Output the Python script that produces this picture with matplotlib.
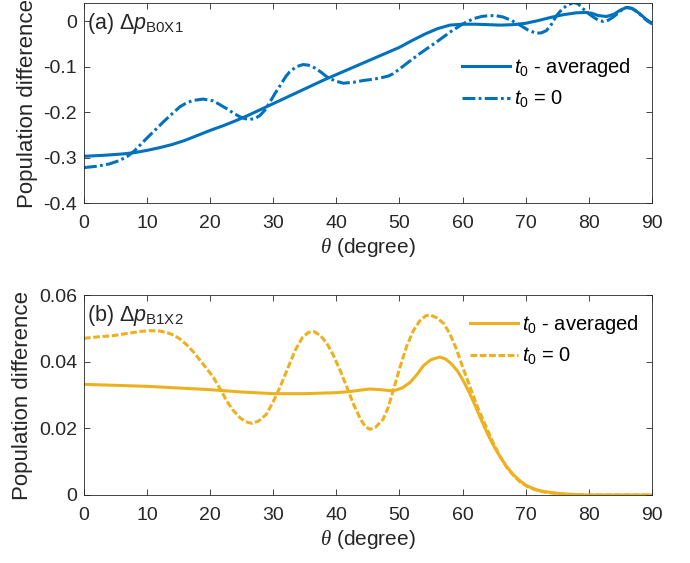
import matplotlib
matplotlib.use('Agg')
import matplotlib.pyplot as plt

plt.rcParams['font.family'] = ['Liberation Sans', 'DejaVu Sans']
plt.rcParams['mathtext.fontset'] = 'custom'
plt.rcParams['mathtext.rm'] = 'Liberation Sans'
plt.rcParams['mathtext.it'] = 'Liberation Sans:italic'
plt.rcParams['mathtext.bf'] = 'Liberation Serif:italic'

# panel (a): Delta p_B0X1, t0-averaged
theta_a_avg = [0, 3, 6, 8, 10, 12, 14, 16, 18, 20, 22, 24, 26, 28, 30, 32, 34, 36, 38, 40, 42, 44, 46,
               48, 50, 52, 54, 56, 58, 60, 62, 64, 66, 68, 70, 72, 74, 76, 78, 79.5, 80.5, 81.5, 82.8,
               84, 85, 86, 87, 88, 89, 90]
p_a_avg = [-0.297, -0.295, -0.292, -0.289, -0.284, -0.278, -0.271, -0.262, -0.251, -0.240, -0.230,
           -0.219, -0.207, -0.194, -0.181, -0.168, -0.155, -0.142, -0.129, -0.117, -0.105, -0.093,
           -0.081, -0.069, -0.057, -0.042, -0.028, -0.016, -0.008, -0.006, -0.006, -0.007, -0.008,
           -0.007, -0.004, 0.002, 0.009, 0.015, 0.019, 0.020, 0.018, 0.013, 0.011, 0.016, 0.025, 0.031,
           0.028, 0.018, 0.006, -0.004]

# panel (a): t0 = 0
theta_a_0 = [0, 2, 4, 5.5, 6.8, 8, 9.9, 11, 12.6, 14, 15.2, 16.3, 17.3, 18.9, 20.5, 21.5, 22.6, 23.7,
             24.7, 25.5, 26.3, 27.2, 27.9, 28.7, 29.5, 30.3, 31.1, 32, 32.6, 33.6, 34.7, 35.5, 36.3,
             37.5, 38.5, 39.8, 41.1, 42.7, 44.3, 46, 47.4, 48.3, 49, 50, 51.1, 53.2, 55.9, 58, 60.1,
             61.7, 63, 64.3, 65.4, 66.4, 67.8, 69.1, 70.4, 71.7, 72.5, 73.3, 74.1, 74.9, 75.7, 76.5,
             77.6, 78.3, 79.1, 80, 80.7, 81.5, 82.3, 83.1, 83.9, 84.6, 85.3, 86, 86.8, 87.6, 88.4,
             89.2, 90]
p_a_0 = [-0.322, -0.319, -0.314, -0.307, -0.298, -0.285, -0.258, -0.243, -0.221, -0.203, -0.188,
         -0.179, -0.174, -0.171, -0.175, -0.183, -0.192, -0.202, -0.210, -0.214, -0.216, -0.213,
         -0.207, -0.195, -0.177, -0.158, -0.141, -0.121, -0.111, -0.100, -0.095, -0.096, -0.100,
         -0.111, -0.122, -0.131, -0.136, -0.134, -0.130, -0.127, -0.123, -0.120, -0.115, -0.105,
         -0.093, -0.071, -0.045, -0.0235, -0.005, 0.006, 0.011, 0.013, 0.0125, 0.010, 0.002, -0.008,
         -0.019, -0.026, -0.025, -0.020, -0.006, 0.013, 0.026, 0.035, 0.042, 0.039, 0.028, 0.017,
         0.010, 0.003, 0.000, 0.003, 0.010, 0.018, 0.026, 0.031, 0.029, 0.022, 0.012, 0.002, -0.005]

# panel (b): Delta p_B1X2, t0-averaged
theta_b_avg = [0, 10, 20, 25, 30, 35, 40, 42, 44, 45.3, 47, 48.5, 49.5, 50.5, 51.7, 52.8, 53.8, 55,
               56.4, 57.3, 58.2, 59.2, 60.1, 61, 62, 63, 64, 65, 66, 67, 68, 69, 70, 71, 72, 73, 75,
               77, 80, 90]
p_b_avg = [0.0332, 0.0326, 0.0316, 0.0309, 0.0304, 0.0304, 0.0307, 0.0310, 0.0315, 0.0318, 0.0316,
           0.0313, 0.0315, 0.0322, 0.0338, 0.0362, 0.0388, 0.0406, 0.0414, 0.0408, 0.0394, 0.0372,
           0.0343, 0.0310, 0.0268, 0.0224, 0.0182, 0.0145, 0.0113, 0.0085, 0.0062, 0.0044, 0.0030,
           0.0021, 0.0014, 0.0010, 0.0005, 0.0002, 0.0, 0.0]

# panel (b): t0 = 0
theta_b_0 = [0, 2, 4.6, 7, 9, 10.5, 12, 13.2, 14.2, 15.3, 16.3, 17.4, 18.4, 19.5, 20.5, 21.6, 22.6,
             23.6, 24.7, 25.6, 26.6, 27.7, 28.9, 30, 31.1, 32.3, 33.5, 34.6, 35.6, 36.5, 37.5, 38.5,
             39.5, 40.6, 41.7, 42.7, 43.8, 44.6, 45.3, 46.2, 47.4, 48.2, 49, 50, 51.1, 52.2, 53.2,
             54.2, 54.8, 55.8, 57, 58, 59, 60, 61.2, 62.5, 63.8, 65, 66, 67, 68.1, 69.2, 70.3, 71.5,
             72.9, 75.4, 78, 80, 90]
p_b_0 = [0.0470, 0.0474, 0.0478, 0.0485, 0.0491, 0.0493, 0.0492, 0.0487, 0.0480, 0.0467, 0.0450,
         0.0428, 0.0404, 0.0378, 0.0353, 0.0318, 0.0283, 0.0255, 0.0232, 0.0220, 0.0215, 0.0222,
         0.0242, 0.0280, 0.0325, 0.0380, 0.0435, 0.0472, 0.0488, 0.0490, 0.0478, 0.0455, 0.0420,
         0.0374, 0.0322, 0.0273, 0.0228, 0.0205, 0.0197, 0.0203, 0.0227, 0.0262, 0.0313, 0.0378,
         0.0444, 0.0493, 0.0522, 0.0538, 0.0540, 0.0533, 0.0515, 0.0483, 0.0439, 0.0385, 0.0323,
         0.0258, 0.0202, 0.0150, 0.0115, 0.0083, 0.0058, 0.0038, 0.0025, 0.0016, 0.0009, 0.0003,
         0.0001, 0.0, 0.0]

blue = '#0072BD'
gold = '#EDB120'
axis_col = '#262626'

fig = plt.figure(figsize=(6.9, 5.63), dpi=100)
ax1 = fig.add_axes([0.1217, 0.6394, 0.823, 0.3547])
ax2 = fig.add_axes([0.1217, 0.1208, 0.823, 0.3552])

ax1.plot(theta_a_avg, p_a_avg, color=blue, lw=2.2, label='$t_0$ - averaged')
ax1.plot(theta_a_0, p_a_0, color=blue, lw=2.2, linestyle=(0, (4.2, 1.1, 0.9, 1.1)), label='$t_0$ = 0')
ax1.set_ylim(-0.4, 0.04)
ax1.set_yticks([-0.4, -0.3, -0.2, -0.1, 0])
ax1.set_yticklabels(['-0.4', '-0.3', '-0.2', '-0.1', '0'])
ax1.text(0.006, 0.9, r'(a) $\Delta p_{\mathrm{B0X1}}$', transform=ax1.transAxes, fontsize=15.5,
         color=axis_col, va='center')
ax1.legend(loc='center left', bbox_to_anchor=(0.665, 0.6), frameon=False, fontsize=14.5,
           handlelength=2.4, handletextpad=0.2, labelspacing=0.5, borderaxespad=0, borderpad=0)

ax2.plot(theta_b_avg, p_b_avg, color=gold, lw=2.2, label='$t_0$ - averaged')
ax2.plot(theta_b_0, p_b_0, color=gold, lw=2.2, linestyle=(0, (2.2, 0.85)), label='$t_0$ = 0')
ax2.set_ylim(0, 0.06)
ax2.set_yticks([0, 0.02, 0.04, 0.06])
ax2.set_yticklabels(['0', '0.02', '0.04', '0.06'])
ax2.text(0.006, 0.9, r'(b) $\Delta p_{\mathrm{B1X2}}$', transform=ax2.transAxes, fontsize=15.5,
         color=axis_col, va='center')
ax2.legend(loc='center left', bbox_to_anchor=(0.68, 0.775), frameon=False, fontsize=14.5,
           handlelength=2.4, handletextpad=0.2, labelspacing=0.5, borderaxespad=0, borderpad=0)

for ax in (ax1, ax2):
    ax.set_xlim(0, 90)
    ax.set_xticks(range(0, 91, 10))
    ax.tick_params(direction='in', top=True, right=True, length=4, width=0.6,
                   colors=axis_col, labelsize=14)
    ax.tick_params(axis='x', pad=8.5)
    ax.tick_params(axis='y', pad=5)
    for sp in ax.spines.values():
        sp.set_color(axis_col)
        sp.set_linewidth(0.6)
    ax.set_xlabel(r'$\mathbf{\theta}$ (degree)', fontsize=15, color=axis_col, labelpad=3)
    ax.set_ylabel('Population difference', fontsize=16, color=axis_col, labelpad=4)

fig.savefig('out.png', dpi=100)
